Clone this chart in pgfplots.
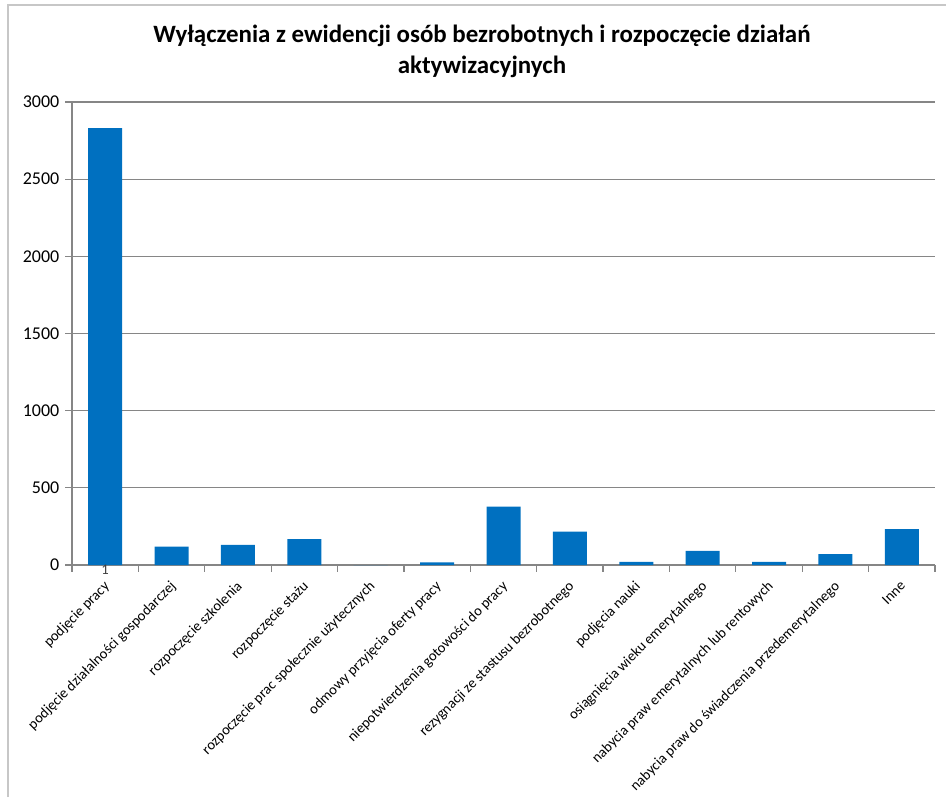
\documentclass[border=0pt]{standalone}
\usepackage{pgfplots}
\pgfplotsset{compat=1.18}
\usepackage{fontspec}
\setmainfont{Carlito}
\definecolor{barblue}{RGB}{0,112,192}
\definecolor{gridgray}{RGB}{134,134,134}
\begin{document}
\begin{tikzpicture}[x=0.75pt,y=0.75pt]
% page: 946 x 797 px, axis south-west corner at pixel (72,565)
\useasboundingbox (-72,-232) rectangle (874,565);
\draw[black!22, line width=1.2pt] (-64,-232) -- (-64,560) -- (874,560);
\begin{axis}[
    at={(0,0)}, anchor=south west,
    scale only axis,
    width=647.25pt, height=347.25pt,
    ymin=0, ymax=3000, ytick={0,500,...,3000},
    xmin=-0.5, xmax=12.5,
    xtick={0,...,12},
    minor xtick={-0.5,0.5,...,12.5},
    major x tick style={draw=none},
    minor tick length=5pt,
    major tick length=5pt,
    tick align=outside,
    axis lines*=left,
    axis line style={gridgray, line width=0.9pt},
    tick style={gridgray, line width=0.9pt},
    ymajorgrids,
    grid style={gridgray, line width=0.9pt},
    ybar, bar width=25.5pt,
    /pgf/number format/assume math mode=true,
    /pgf/number format/1000 sep={},
    yticklabel style={font=\fontsize{13.5}{15}\selectfont, xshift=-1pt},
    xticklabel style={font=\fontsize{10.9}{12}\selectfont, rotate=45, anchor=north east, inner sep=1pt, xshift=-4.5pt, yshift=-2pt},
    xticklabels={podjęcie pracy, podjęcie działalności gospodarczej, rozpoczęcie szkolenia, rozpoczęcie stażu, rozpoczęcie prac społecznie użytecznych, odmowy przyjęcia oferty pracy, niepotwierdzenia gotowości do pracy, rezygnacji ze stastusu bezrobotnego, podjęcia nauki, osiągnięcia wieku emerytalnego, nabycia praw emerytalnych lub rentowych, nabycia praw do świadczenia przedemerytalnego, Inne},
    clip=false,
]
\addplot[fill=barblue, draw=none] coordinates {
    (0,2830) (1,119) (2,131) (3,168) (4,0) (5,17) (6,378)
    (7,216) (8,21) (9,91) (10,21) (11,71) (12,233)};
\node[font=\fontsize{11}{12}\selectfont, text=black!75, anchor=north, inner sep=0pt] at (axis cs:0,0) [yshift=0pt] {1};
\end{axis}
\node[font=\fontsize{18.7}{23.25}\selectfont\bfseries, align=center] at (410,513.5) {Wyłączenia z ewidencji osób bezrobotnych i rozpoczęcie działań\\aktywizacyjnych};
\end{tikzpicture}
\end{document}
